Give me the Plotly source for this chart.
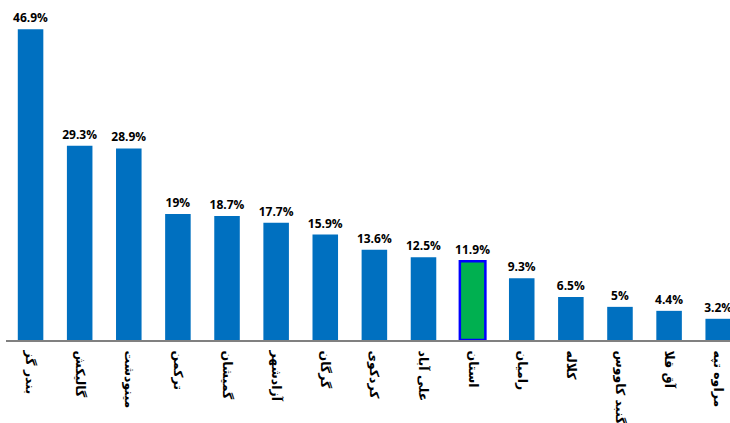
import plotly.graph_objects as go

# counties and their values (percent)
counties = ['بندر گز', 'گالیکش', 'مینودشت', 'ترکمن', 'گمیشان', 'آزادشهر', 'گرگان',
            'کردکوی', 'علی آباد', 'استان', 'رامیان', 'کلاله', 'گنبد کاووس', 'آق قلا', 'مراوه تپه']
values = [46.9, 29.3, 28.9, 19, 18.7, 17.7, 15.9, 13.6, 12.5, 11.9, 9.3, 6.5, 5, 4.4, 3.2]
highlight = 'استان'

colors = ['#00B050' if c == highlight else '#0070C0' for c in counties]
line_colors = ['#0000FF' if c == highlight else '#0070C0' for c in counties]
line_widths = [2.5 if c == highlight else 0 for c in counties]
labels = [f'{v:g}%' for v in values]

fig = go.Figure()
fig.add_trace(go.Bar(
    x=counties, y=values,
    marker=dict(color=colors, line=dict(color=line_colors, width=line_widths)),
    width=0.52,
    text=labels, textposition='outside', cliponaxis=False, constraintext='none',
    textfont=dict(family='Open Sans', size=12, color='black', weight='bold'),
))

fig.update_layout(
    width=730, height=423,
    margin=dict(l=6, r=0, t=0, b=83),
    plot_bgcolor='white', paper_bgcolor='white',
    showlegend=False,
)
fig.update_xaxes(
    range=[-0.5, 14.24], tickangle=90, automargin=False, ticklabelstandoff=6,
    tickfont=dict(family='DejaVu Sans', size=12.5, color='black', weight='bold'),
    showline=True, linecolor='#808080', linewidth=2, ticks='',
)
fig.update_yaxes(range=[0, 51.3], visible=False, automargin=False)

# body has a default 8px margin, drop it so the figure fills the window
fig.write_html("out.html", config={'displayModeBar': False},
               post_script="document.body.style.margin='0';")
